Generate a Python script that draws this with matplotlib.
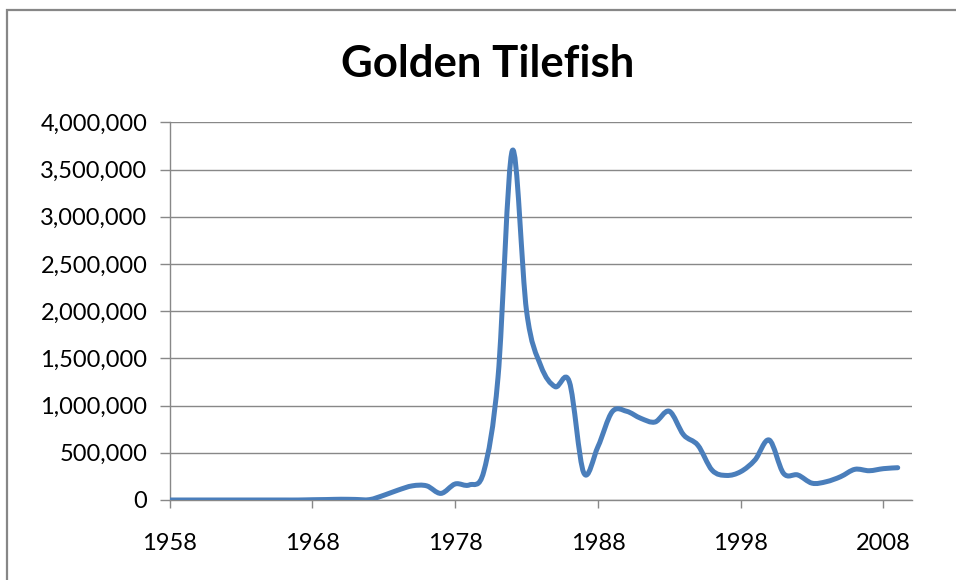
import matplotlib
matplotlib.use("Agg")
import matplotlib.pyplot as plt
from matplotlib.path import Path
from matplotlib.patches import PathPatch, Rectangle
from matplotlib.ticker import FuncFormatter, MultipleLocator

years = list(range(1958, 2010))
landings = [
    0, 0, 0, 0, 0, 0, 0, 0, 0, 0,            # 1958-1967
    3000, 5000, 8000, 6000, 4000,            # 1968-1972
    50000, 105000, 150000, 150000, 70000,    # 1973-1977
    170000, 160000, 300000, 1300000, 3700000,  # 1978-1982
    2000000, 1420000, 1200000, 1250000, 290000,  # 1983-1987
    565000, 935000, 940000, 865000, 826000,  # 1988-1992
    940000, 690000, 580000, 315000, 260000,  # 1993-1997
    300000, 424000, 635000, 282000, 265000,  # 1998-2002
    178000, 194000, 247000, 325000, 310000,  # 2003-2007
    332000, 342000,                          # 2008-2009
]
title = "Golden Tilefish"
x_ticks = [1958, 1968, 1978, 1988, 1998, 2008]

W, H = 956, 580
fig = plt.figure(figsize=(W / 100, H / 100), dpi=100)
fig.patch.set_facecolor("white")

ax = fig.add_axes([169.7 / W, 1 - 500 / H, (912 - 169.7) / W, (500 - 122.3) / H])

# Excel-style smoothed line: Catmull-Rom Bezier through the data points
n = len(years)
pts = list(zip(years, landings))
verts = [pts[0]]
codes = [Path.MOVETO]
for i in range(n - 1):
    p0 = pts[i - 1] if i > 0 else pts[i]
    p1 = pts[i]
    p2 = pts[i + 1]
    p3 = pts[i + 2] if i + 2 < n else pts[i + 1]
    c1 = (p1[0] + (p2[0] - p0[0]) / 6, p1[1] + (p2[1] - p0[1]) / 6)
    c2 = (p2[0] - (p3[0] - p1[0]) / 6, p2[1] - (p3[1] - p1[1]) / 6)
    verts += [c1, c2, p2]
    codes += [Path.CURVE4] * 3
ax.add_patch(PathPatch(Path(verts, codes), fill=False, edgecolor="#4A7EBB",
                       lw=3.6, capstyle="round", joinstyle="round", zorder=3))

ax.set_xlim(1958, 2010)
ax.set_ylim(0, 4000000)
ax.yaxis.set_major_locator(MultipleLocator(500000))
ax.yaxis.set_major_formatter(FuncFormatter(lambda v, p: f"{int(v):,}"))
ax.set_xticks(x_ticks)
ax.set_xticklabels([str(y) for y in x_ticks])

ax.grid(axis="y", color="#888888", lw=1.0)
ax.set_axisbelow(True)
for s in ["top", "right"]:
    ax.spines[s].set_visible(False)
for s in ["left", "bottom"]:
    ax.spines[s].set_color("#888888")
    ax.spines[s].set_linewidth(1.0)

ax.tick_params(axis="y", length=7, width=1.0, color="#888888", pad=9,
               labelsize=17, labelcolor="black")
ax.tick_params(axis="x", length=6, width=1.0, color="#888888", pad=18,
               labelsize=17, labelcolor="black")
for lbl in ax.get_xticklabels() + ax.get_yticklabels():
    lbl.set_family("Lato")

fig.text(487.5 / W, 1 - 77 / H, title, ha="center", va="baseline",
         fontsize=31.5, fontweight="bold", family="Lato")

fig.add_artist(Rectangle((7 / W, -0.1), 1.2, (H - 10) / H + 0.1,
                         transform=fig.transFigure, fill=False,
                         edgecolor="#878787", lw=1.6))

fig.savefig("out.png", dpi=100)
